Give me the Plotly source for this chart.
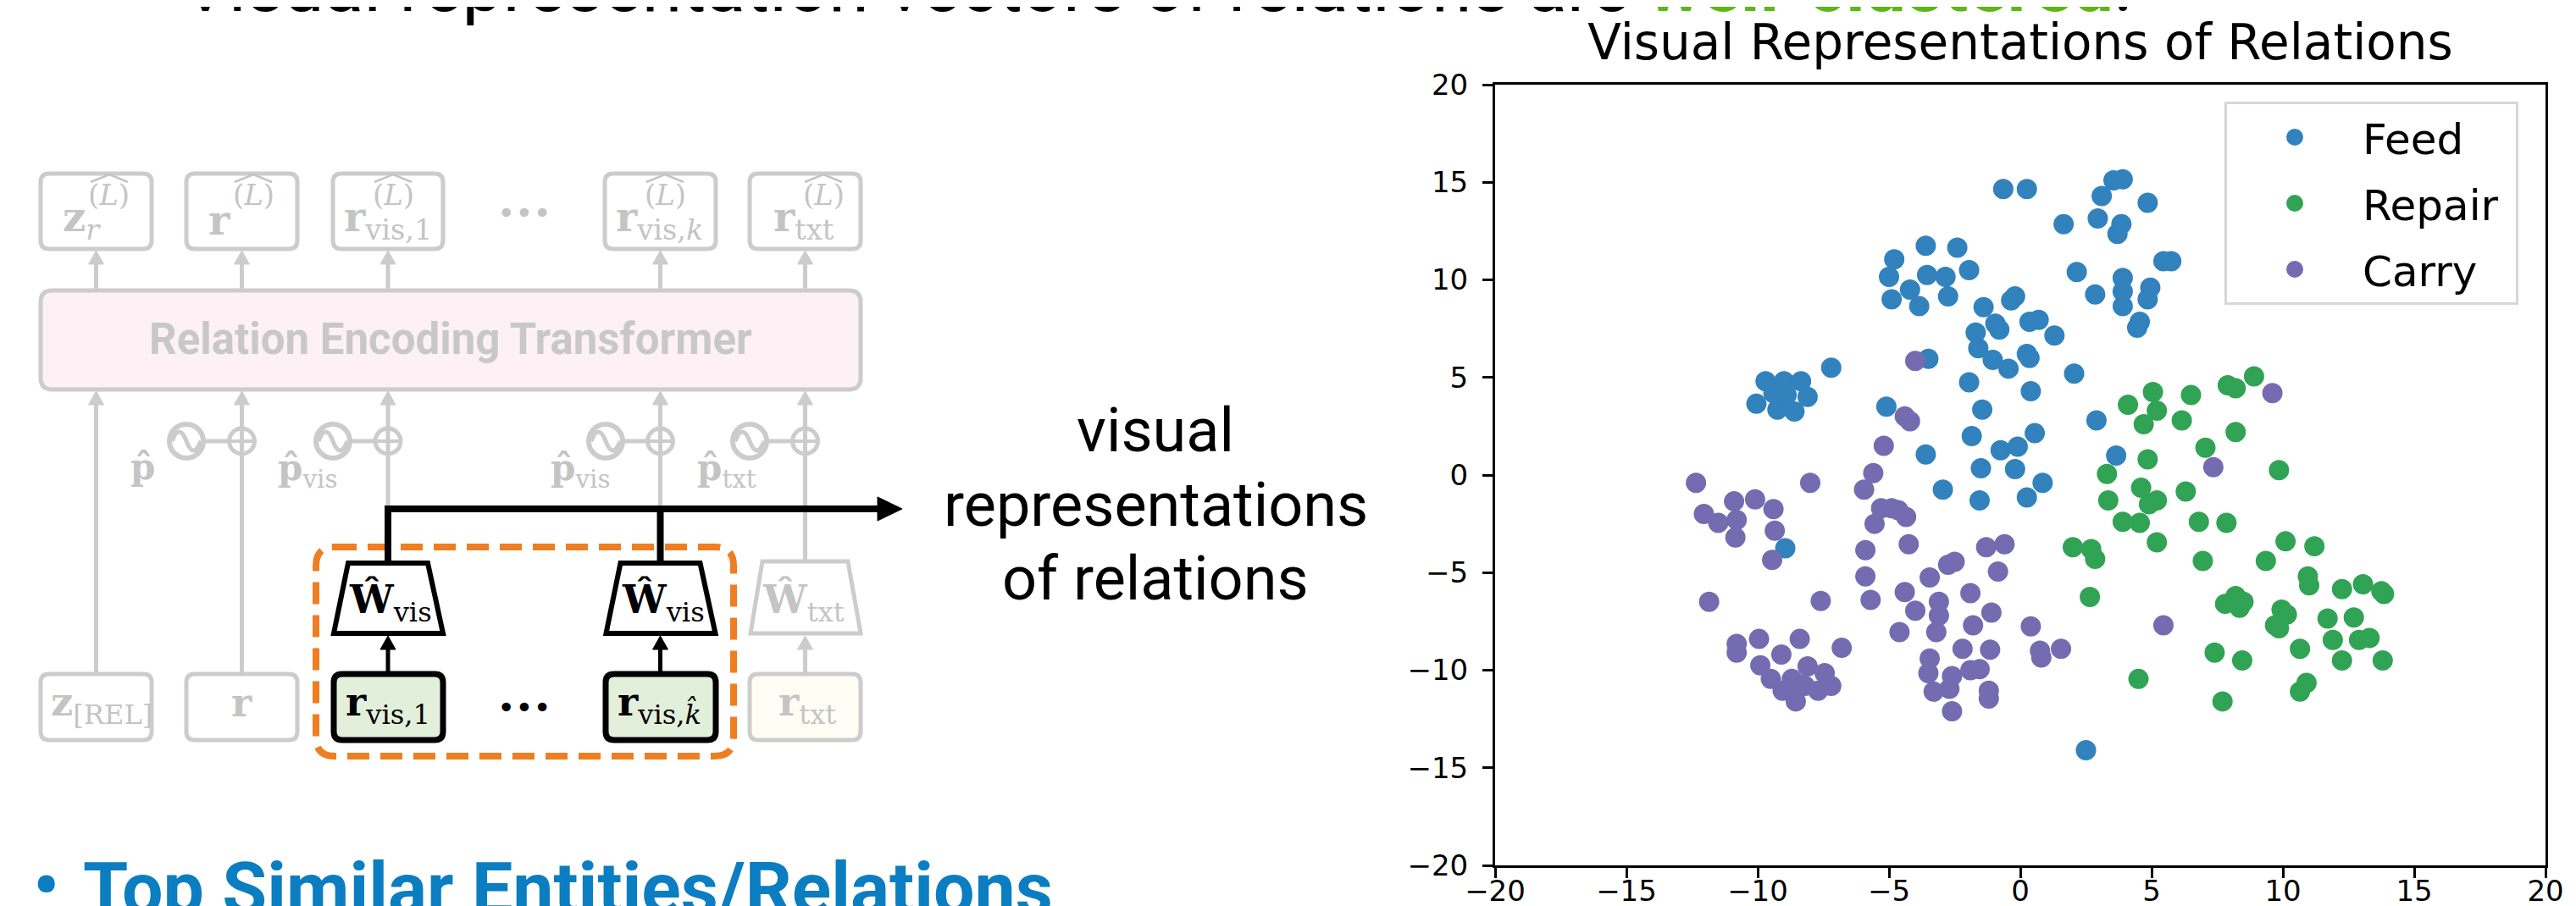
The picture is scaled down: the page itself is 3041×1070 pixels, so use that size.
import plotly.graph_objects as go

W, H = 3041, 1070

# ---------------- data (t-SNE of visual relation representations) ----------------
categories = ["Feed", "Repair", "Carry"]
colors = ["#3182bd", "#31a354", "#756bb1"]

feed_x = [-7.2, -9.7, -9.0, -8.35, -8.1, -10.05, -9.25, -8.6, -8.9, -9.4,
          -3.6, -4.8, -2.4, -5.0, -3.55, -2.85, -1.95, -4.9, -4.2, -3.85,
          -2.75, -1.4, -0.95, -1.7, -1.6, -3.5, -1.05, -1.95, -5.1, -1.45,
          -1.85, -3.6, -1.5,
          -0.65, 0.25, 3.55, 3.9, 3.1, 2.95, 1.65, 4.85, 3.85, 3.7, 5.45, 5.75,
          2.15, 2.85, 3.9, 3.9, 3.9, 4.95, 4.85, 4.55, 4.45,
          -0.2, -0.35, -0.8, 0.35, 0.7, 1.3,
          -0.45, 0.25, 0.35, 2.05, 0.4, 0.55, -0.75, -0.1, 2.9, 3.65, -0.2,
          0.85, -1.55, 0.25, -2.95, 2.5, -8.95]
feed_y = [5.5, 4.8, 4.8, 4.8, 4.0, 3.65, 3.35, 3.25, 4.1, 4.2,
          11.75, 11.05, 11.65, 10.15, 10.25, 10.15, 10.5, 9.0, 9.5, 8.65,
          9.15, 8.6, 7.75, 7.3, 6.5, 5.95, 5.9, 4.75, 3.5, 3.35,
          2.0, 1.05, 0.35,
          14.65, 14.65, 15.1, 15.15, 14.3, 13.15, 12.85, 13.95, 12.85, 12.35, 10.95, 10.95,
          10.4, 9.25, 10.1, 9.4, 8.65, 9.6, 9.0, 7.85, 7.55,
          9.15, 8.95, 7.45, 7.85, 7.95, 7.15,
          5.45, 6.2, 6.0, 5.2, 4.3, 2.15, 1.27, 1.45, 2.8, 1.0, 0.3,
          -0.4, -1.3, -1.15, -0.75, -14.1, -3.75]

repair_x = [8.9, 7.9, 8.2, 6.5, 5.05, 4.1, 5.2, 4.7, 6.15, 8.2, 7.05, 4.85, 9.85, 3.3,
            4.6, 6.3, 3.35, 5.2, 4.9, 3.9, 4.55, 6.8, 7.85, 5.2, 2.0, 2.7, 2.85, 6.95,
            10.1, 11.2, 9.35, 10.95, 11.0, 12.25, 13.05, 13.75, 13.85, 2.65,
            7.8, 8.2, 8.35, 8.5, 9.95, 10.15, 9.7, 9.85, 11.7, 12.7, 11.9, 12.9, 13.3,
            10.65, 7.4, 8.45, 12.25, 13.8, 4.5, 10.9, 10.65, 7.7]
repair_y = [5.05, 4.6, 4.45, 4.1, 4.25, 3.6, 3.3, 2.6, 2.8, 2.2, 1.4, 0.8, 0.25, 0.05,
            -0.65, -0.85, -1.3, -1.3, -1.5, -2.4, -2.45, -2.4, -2.45, -3.45, -3.7, -3.8, -4.3, -4.4,
            -3.4, -3.65, -4.4, -5.2, -5.65, -5.85, -5.6, -5.95, -6.1, -6.25,
            -6.6, -6.2, -6.8, -6.5, -6.9, -7.15, -7.7, -7.85, -7.35, -7.3, -8.45, -8.45, -8.35,
            -8.9, -9.1, -9.5, -9.5, -9.5, -10.45, -10.65, -11.1, -11.6]

carry_x = [-4.0, -4.4, -4.2, -5.2, -5.6, -12.35, -8.0, -5.95, -10.9, -10.1, -9.4, -12.05,
           -11.5, -10.8, -10.85, -9.35, -9.45, -5.3, -4.9, -4.65, -4.35, -5.55, -4.25, -5.9,
           -5.9, -5.7, -2.75, -2.5, -3.45, -4.4, -4.0, -3.1, -3.1, -1.9, -4.6, -3.2, -1.8,
           -1.1, -1.3, -0.6, -0.85, -2.2, -1.15, 0.4, 0.75, 0.8, 1.55, -3.45, -3.5, -2.6,
           -2.7, -3.3, -2.6, -1.9, -1.55, -1.2, -1.2,
           -11.85, -7.6, -10.8, -10.8, -9.95, -8.4, -9.1, -6.8, -9.9, -9.5, -8.1, -7.45,
           -8.7, -9.05, -8.55, -8.2, -7.7, -7.2, -8.4,
           9.6, 7.35, 5.45]
carry_y = [5.85, 3.0, 2.75, 1.5, 0.1, -0.4, -0.4, -0.75, -1.35, -1.25, -1.75, -2.0,
           -2.45, -2.3, -3.2, -2.85, -4.35, -1.7, -1.7, -1.8, -2.15, -2.5, -3.55, -3.85,
           -5.2, -6.4, -4.6, -4.45, -5.25, -6.0, -6.95, -6.5, -7.2, -6.05, -8.05, -8.05, -7.7,
           -7.05, -3.7, -3.55, -4.95, -8.9, -8.95, -7.75, -9.0, -9.35, -8.9, -9.4, -10.15, -10.3,
           -10.95, -11.1, -12.1, -10.0, -9.95, -11.05, -11.45,
           -6.5, -6.45, -8.65, -9.1, -8.4, -8.4, -9.2, -8.85, -9.75, -10.45, -9.8, -10.15,
           -10.45, -11.05, -11.6, -10.8, -11.05, -10.8, -10.75,
           4.2, 0.4, -7.7]

tick_vals = [-20, -15, -10, -5, 0, 5, 10, 15, 20]
chart_title = "Visual Representations of Relations"


# ---------------- helpers (pixel -> paper) ----------------
def X(px):
    return px / W


def Y(py):
    return 1 - py / H


def pth(points, close=True):
    s = "M " + " L ".join(f"{X(a):.6f},{Y(b):.6f}" for a, b in points)
    return s + (" Z" if close else "")


def rrect(x0, y0, x1, y1, r):
    def p(a, b):
        return f"{X(a):.6f},{Y(b):.6f}"
    return (f"M {p(x0 + r, y0)} L {p(x1 - r, y0)} Q {p(x1, y0)} {p(x1, y0 + r)} "
            f"L {p(x1, y1 - r)} Q {p(x1, y1)} {p(x1 - r, y1)} L {p(x0 + r, y1)} "
            f"Q {p(x0, y1)} {p(x0, y1 - r)} L {p(x0, y0 + r)} Q {p(x0, y0)} {p(x0 + r, y0)} Z")


shapes = []
annos = []

GL = "#cccccc"   # grey lines
GT = "#c4c4c4"   # grey text
BK = "#000000"
SERIF = "DejaVu Serif"


def box(x0, y0, x1, y1, r, color, width, fill="white", dash="solid"):
    shapes.append(dict(type="path", path=rrect(x0, y0, x1, y1, r), xref="paper", yref="paper",
                       line=dict(color=color, width=width, dash=dash), fillcolor=fill, layer="above"))


def seg(x0, y0, x1, y1, color, width):
    shapes.append(dict(type="line", x0=X(x0), y0=Y(y0), x1=X(x1), y1=Y(y1), xref="paper", yref="paper",
                       line=dict(color=color, width=width), layer="above"))


def tri(points, color):
    shapes.append(dict(type="path", path=pth(points), xref="paper", yref="paper",
                       line=dict(color=color, width=1), fillcolor=color, layer="above"))


def up_arrow(x, y_from, y_tip, color, width, hw=9, hh=16):
    seg(x, y_from, x, y_tip + hh - 2, color, width)
    tri([(x - hw, y_tip + hh), (x, y_tip), (x + hw, y_tip + hh)], color)


def circ(cx, cy, r, color, width):
    shapes.append(dict(type="circle", x0=X(cx - r), x1=X(cx + r), y0=Y(cy + r), y1=Y(cy - r),
                       xref="paper", yref="paper", line=dict(color=color, width=width), layer="above"))


def text(t, x, y, size, color, family=SERIF, xanchor="center", yanchor="middle"):
    annos.append(dict(text=t, x=X(x), y=Y(y), xref="paper", yref="paper", showarrow=False,
                      xanchor=xanchor, yanchor=yanchor, font=dict(size=size, color=color, family=family)))


# ---------------- diagram: top row ----------------
top_boxes = [(40, 171), (212, 343), (385, 515), (706, 837), (877, 1008)]
centers = [105.5, 277.5, 450, 771.5, 942.5]
for (a, b) in top_boxes:
    box(a, 197, b, 286, 10, GL, 5)
for c in centers:
    up_arrow(c, 335, 288, GL, 5)

top_base = ["<b>z</b><sub><i>r</i></sub>", "<b>r</b>", "<b>r</b><sub>vis,1</sub>",
            "<b>r</b><sub>vis,<i>k</i></sub>", "<b>r</b><sub>txt</sub>"]
base_left = [64, 236, 396, 717, 903]
sup_cx = [121, 291, 456, 777, 964]
for t, xl, sc in zip(top_base, base_left, sup_cx):
    text(t, xl, 252, 48, GT, xanchor="left")
    text("(<i>L</i>)", sc, 222, 34, GT)
    shapes.append(dict(type="path", path=pth([(sc - 22, 207), (sc, 198), (sc + 22, 207)], close=False),
                       xref="paper", yref="paper", line=dict(color=GT, width=2.5), layer="above"))
text("•••", 611, 243, 36, GT, family="DejaVu Sans")

# transformer block
box(40, 335, 1008, 452, 14, GL, 5, fill="#fdf1f6")
text("<b>Relation Encoding Transformer</b>", 524, 393, 51, "#c8c8c8", family="Roboto")

# arrows into transformer
for c in centers:
    up_arrow(c, 480, 454, GL, 5)
seg(105.5, 480, 105.5, 788, GL, 5)
seg(277.5, 480, 277.5, 788, GL, 5)
seg(450, 480, 450, 593, GL, 5)
seg(771.5, 480, 771.5, 593, GL, 5)
seg(942.5, 480, 942.5, 655, GL, 5)

# positional encodings (sinusoid circle + add)
sin_cx = [212, 385, 707, 877]
for sc, pc in zip(sin_cx, centers[1:]):
    circ(sc, 513, 20, GL, 6)
    r = 17
    shapes.append(dict(type="path",
                       path=(f"M {X(sc - r):.6f},{Y(513):.6f} Q {X(sc - r / 2):.6f},{Y(513 - 1.3 * r):.6f} "
                             f"{X(sc):.6f},{Y(513):.6f} Q {X(sc + r / 2):.6f},{Y(513 + 1.3 * r):.6f} "
                             f"{X(sc + r):.6f},{Y(513):.6f}"),
                       xref="paper", yref="paper", line=dict(color=GL, width=5), layer="above"))
    seg(sc + 20, 513, pc - 15, 513, GL, 5)
    circ(pc, 513, 15, GL, 5)
    seg(pc - 15, 513, pc + 15, 513, GL, 4)

text("<b>p̂</b>", 160, 543, 42, GT)
text("<b>p̂</b><sub>vis</sub>", 318, 547, 42, GT, xanchor="left")
text("<b>p̂</b><sub>vis</sub>", 640, 547, 42, GT, xanchor="left")
text("<b>p̂</b><sub>txt</sub>", 813, 547, 42, GT, xanchor="left")

# ---------------- diagram: highlighted visual projection ----------------
box(365, 638, 858, 885, 22, "#ef7d22", 8, fill="rgba(0,0,0,0)", dash="26px,13px")

seg(450, 593, 1032, 593, BK, 8)
tri([(1028, 579), (1057, 593), (1028, 607)], BK)
seg(450, 589, 450, 660, BK, 8)
seg(771.5, 589, 771.5, 660, BK, 8)

for off in (0, 321.5):
    shapes.append(dict(type="path",
                       path=pth([(403 + off, 657), (497 + off, 657), (515 + off, 740), (386 + off, 740)]),
                       xref="paper", yref="paper", line=dict(color=BK, width=6), fillcolor="white",
                       layer="above"))
    text("<b>Ŵ</b><sub>vis</sub>", 402 + off, 703, 46, BK, xanchor="left")
    up_arrow(450 + off, 788, 743, BK, 5)
shapes.append(dict(type="path", path=pth([(892, 655), (993, 655), (1008, 740), (878, 740)]),
                   xref="paper", yref="paper", line=dict(color=GL, width=5), fillcolor="white", layer="above"))
text("<b>Ŵ</b><sub>txt</sub>", 890, 703, 46, GT, xanchor="left")
up_arrow(942.5, 788, 743, GL, 5)

# bottom row
box(40, 788, 171, 866, 10, GL, 5)
box(212, 788, 343, 866, 10, GL, 5)
box(386, 788, 515, 866, 10, BK, 7, fill="#e2efda")
box(707, 788, 837, 866, 10, BK, 7, fill="#e2efda")
box(877, 788, 1008, 866, 10, GL, 5, fill="#fffcf4")
text("<b>z</b><sub>[REL]</sub>", 50, 824, 46, GT, xanchor="left")
text("<b>r</b>", 277, 822, 46, GT)
text("<b>r</b><sub>vis,1</sub>", 398, 824, 46, BK, xanchor="left")
text("<b>r</b><sub>vis,<i>k̂</i></sub>", 719, 824, 46, BK, xanchor="left")
text("<b>r</b><sub>txt</sub>", 909, 824, 46, GT, xanchor="left")
text("•••", 611, 827, 36, BK, family="DejaVu Sans")

# right-edge slide border
seg(3038, 0, 3038, 1070, "#dddddd", 2)

# ---------------- slide texts ----------------
text("Visual representation vectors of relations are "
     "<b><span style='color:#5cb814'>well-clustered</span></b>.",
     205, -24, 86, BK, family="Roboto", xanchor="left")
text("visual", 1356, 500, 72, BK, family="Roboto")
text("representations", 1356, 588, 72, BK, family="Roboto")
text("of relations", 1356, 675, 72, BK, family="Roboto")
text("<b>•</b>", 46, 1037, 86, "#0b7dc1", family="Roboto")
text("<b>Top Similar Entities/Relations</b>", 88, 1041, 86, "#0b7dc1", family="Roboto", xanchor="left")

# ---------------- scatter ----------------
fig = go.Figure()
series = [(feed_x, feed_y), (repair_x, repair_y), (carry_x, carry_y)]
for name, col, (xs, ys) in zip(categories, colors, series):
    fig.add_trace(go.Scatter(x=xs, y=ys, mode="markers", name=name + "\u00a0", legendgroup=name,
                             marker=dict(color=col, size=20, line=dict(color=col, width=4))))

axis_common = dict(range=[-20, 20], tickvals=tick_vals, ticks="outside", ticklen=12, tickwidth=3,
                   tickcolor="black", showline=True, linewidth=3, linecolor="black", mirror=True,
                   showgrid=False, zeroline=False, automargin=False,
                   tickfont=dict(family="DejaVu Sans", size=34, color="black"), fixedrange=True)

fig.update_layout(
    width=W, height=H, autosize=False,
    margin=dict(l=0, r=0, t=0, b=0, pad=0, autoexpand=False),
    paper_bgcolor="white", plot_bgcolor="white",
    xaxis=dict(domain=[X(1757), X(2997)], ticklabelstandoff=-14, **axis_common),
    yaxis=dict(domain=[Y(1014), Y(92)], ticklabelstandoff=10, **axis_common),
    title=dict(text=chart_title, x=X(2377), xanchor="center", y=Y(42), yanchor="middle",
               xref="paper", yref="container", automargin=False,
               font=dict(family="DejaVu Sans", size=58, color="black")),
    legend=dict(x=X(2618), y=Y(112), xanchor="left", yanchor="top",
                bgcolor="white", bordercolor="#d6d6d6", borderwidth=3,
                font=dict(family="DejaVu Sans", size=50, color="black"),
                itemwidth=150, tracegroupgap=10),
    shapes=shapes,
    annotations=annos,
    showlegend=True,
)

fig.write_html("out.html")
